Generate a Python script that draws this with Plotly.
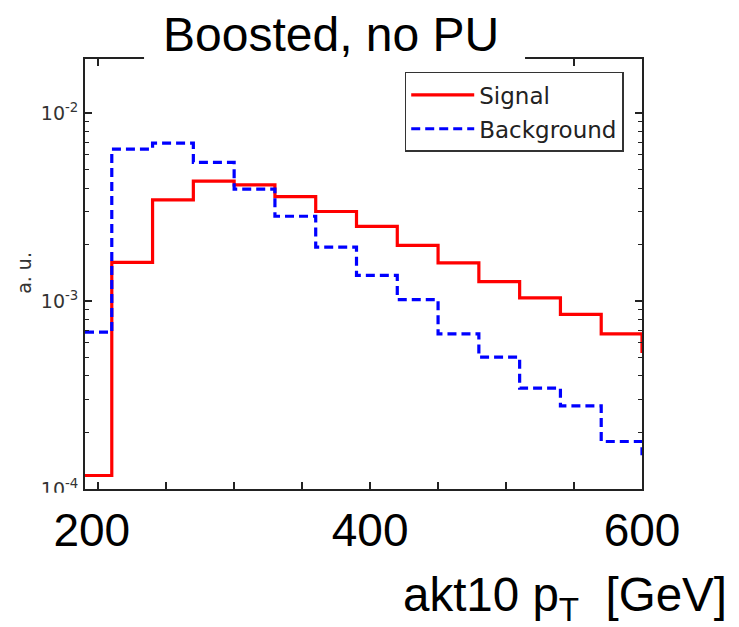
import plotly.graph_objects as go

# Histogram bin edges in akt10 pT [GeV] (30 GeV bins)
bin_edges = [180, 210, 240, 270, 300, 330, 360, 390, 420, 450, 480, 510, 540, 570, 600, 630]

# Normalised bin contents (a.u.)
signal = [1.18e-4, 1.61e-3, 3.46e-3, 4.35e-3, 4.16e-3, 3.60e-3, 3.00e-3, 2.50e-3,
          1.98e-3, 1.60e-3, 1.27e-3, 1.04e-3, 8.5e-4, 6.7e-4, 5.4e-4]
background = [6.84e-4, 6.45e-3, 6.93e-3, 5.48e-3, 3.95e-3, 2.83e-3, 1.94e-3, 1.37e-3,
              1.02e-3, 6.7e-4, 5.03e-4, 3.44e-4, 2.77e-4, 1.79e-4, 1.54e-4]

x_ticks = [200, 250, 300, 350, 400, 450, 500, 550, 600]
x_tick_text = ["200&nbsp;", "", "", "", "400", "", "", "", "600"]
y_ticks = [1e-4, 1e-3, 1e-2]
y_tick_text = ["10<sup>-4</sup>", "10<sup>-3</sup>", "10<sup>-2</sup>"]
y_minor = [m * d for d in (1e-4, 1e-3, 1e-2) for m in range(2, 10)]


def step_xy(edges, values):
    """Points for an 'hv' step line covering every bin."""
    return list(edges), list(values) + [values[-1]]


fig = go.Figure()

sx, sy = step_xy(bin_edges, signal)
fig.add_trace(go.Scatter(
    x=sx, y=sy, mode="lines", name="Signal", line_shape="hv",
    line=dict(color="#ff0000", width=3.2), legendgroup="s",
))
bx, by = step_xy(bin_edges, background)
fig.add_trace(go.Scatter(
    x=bx, y=by, mode="lines", name="Background", line_shape="hv",
    line=dict(color="#0000ff", width=3.2, dash="9px,5px"), legendgroup="b",
))

axis_common = dict(
    showline=True, linecolor="#222", linewidth=1.8, mirror="ticks",
    ticks="inside", tickcolor="#222", tickwidth=1.5, showgrid=False, zeroline=False,
)

fig.update_xaxes(
    range=[190.3, 600], tickmode="array", tickvals=x_ticks, ticktext=x_tick_text,
    ticklen=7, tickfont=dict(family="Liberation Sans, Arial", size=46, color="black"),
    ticklabelstandoff=0, **axis_common,
)
fig.update_yaxes(
    type="log", range=[-4.0, -1.711], tickmode="array", tickvals=y_ticks,
    ticktext=y_tick_text, ticklen=7,
    tickfont=dict(family="DejaVu Sans", size=19, color="#333"),
    ticklabelstandoff=1,
    minor=dict(tickmode="array", tickvals=y_minor, ticks="inside", ticklen=4.5,
               tickcolor="#222", tickwidth=1.3),
    **axis_common,
)

fig.update_layout(
    width=739, height=627,
    margin=dict(l=85, r=97, t=59, b=138),
    plot_bgcolor="white", paper_bgcolor="white",
    showlegend=True,
    legend=dict(
        x=0.574, y=0.97, xanchor="left", yanchor="top",
        bgcolor="white", bordercolor="#333", borderwidth=1.5,
        font=dict(family="DejaVu Sans", size=23, color="#222"),
        traceorder="grouped", tracegroupgap=1, itemwidth=63,
    ),
    shapes=[
        # gap in the top frame behind the title
        dict(type="rect", xref="paper", yref="paper", x0=0.106, x1=0.790,
             y0=0.975, y1=1.06, fillcolor="white", line=dict(width=0), layer="above"),
        # lower part of the bottom y tick label hidden by the x label band
        dict(type="rect", xref="paper", yref="paper", x0=-0.16, x1=-0.005,
             y0=-0.05, y1=-0.009, fillcolor="white", line=dict(width=0), layer="above"),
    ],
    annotations=[
        dict(text="Boosted, no PU", xref="paper", yref="paper", x=0.4424, y=1.058,
             xanchor="center", yanchor="middle", showarrow=False,
             font=dict(family="Liberation Sans, Arial", size=48, color="black")),
        dict(text="akt10 p<sub>T</sub>&nbsp; [GeV]", xref="paper", yref="paper",
             x=1.1565, y=-0.254, xanchor="right", yanchor="middle", showarrow=False,
             font=dict(family="Liberation Sans, Arial", size=47.5, color="black")),
        dict(text="a. u.", xref="paper", yref="paper", x=-0.11, y=0.502,
             xanchor="center", yanchor="middle", textangle=-90, showarrow=False,
             font=dict(family="DejaVu Sans", size=19, color="#333")),
    ],
)

fig.write_html("out.html")
